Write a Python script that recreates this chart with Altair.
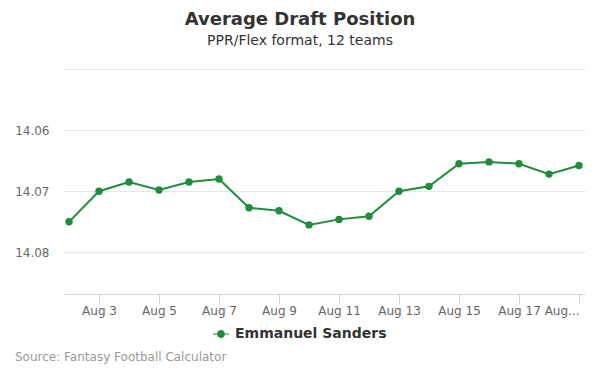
import altair as alt
import pandas as pd

# ---- data ----
dates = ["2019-08-02", "2019-08-03", "2019-08-04", "2019-08-05", "2019-08-06",
         "2019-08-07", "2019-08-08", "2019-08-09", "2019-08-10", "2019-08-11",
         "2019-08-12", "2019-08-13", "2019-08-14", "2019-08-15", "2019-08-16",
         "2019-08-17", "2019-08-18", "2019-08-19"]
adp = [14.0750, 14.0700, 14.0685, 14.0698, 14.0685,
       14.0680, 14.0727, 14.0732, 14.0755, 14.0746,
       14.0741, 14.0700, 14.0692, 14.0655, 14.0652,
       14.0655, 14.0672, 14.0658]
player = "Emmanuel Sanders"
y_ticks = [14.05, 14.06, 14.07, 14.08]
x_tick_days = [3, 5, 7, 9, 11, 13, 15, 17, 19]
title_text = "Average Draft Position"
subtitle_text = "PPR/Flex format, 12 teams"
source_text = "Source: Fantasy Football Calculator"

GREEN = "#218c3c"
FONT = "DejaVu Sans"

df = pd.DataFrame({"date": dates, "adp": adp, "player": player})

x_enc = alt.X(
    "date:T",
    scale=alt.Scale(
        type="utc",
        domain=[alt.DateTime(year=2019, month=8, date=1, hours=20, utc=True),
                alt.DateTime(year=2019, month=8, date=19, hours=4, minutes=48, utc=True)],
        nice=False,
    ),
    axis=alt.Axis(
        title=None,
        values=[alt.DateTime(year=2019, month=8, date=d, utc=True) for d in x_tick_days],
        format="%b %-d",
        labelExpr="utcdate(datum.value) == 19 ? 'Aug...' : datum.label",
        labelAlign={"condition": {"test": "utcdate(datum.value) == 19", "value": "right"},
                    "value": "center"},
        grid=False,
        domainColor="#ccd6eb",
        tickColor="#ccd6eb",
        tickSize=10,
        labelPadding=1,
        labelFont=FONT,
        labelFontSize=12,
        labelColor="#666666",
        labelFlush=False,
        labelOverlap=False,
    ),
)

y_enc = alt.Y(
    "adp:Q",
    scale=alt.Scale(domain=[14.04985, 14.0868], reverse=True, nice=False, zero=False),
    axis=alt.Axis(
        title=None,
        values=y_ticks,
        labelExpr="datum.value < 14.055 ? '' : format(datum.value, '.2f')",
        domain=False,
        ticks=False,
        gridColor="#e6e6e6",
        labelPadding=15,
        labelFont=FONT,
        labelFontSize=12,
        labelColor="#666666",
    ),
)

legend_symbol = ("M -1 -0.0625 L -0.5 -0.0625 L -0.5 0.0625 L -1 0.0625 Z "
                 "M 0.5 -0.0625 L 1 -0.0625 L 1 0.0625 L 0.5 0.0625 Z "
                 "M 0.5 0 A 0.5 0.5 0 1 1 -0.5 0 A 0.5 0.5 0 1 1 0.5 0 Z")

color_enc = alt.Color(
    "player:N",
    scale=alt.Scale(range=[GREEN]),
    legend=alt.Legend(
        title=None,
        orient="none",
        legendX=149,
        legendY=258,
        symbolType=legend_symbol,
        symbolSize=256,
        symbolFillColor=GREEN,
        symbolStrokeWidth=0,
        labelFont=FONT,
        labelFontSize=14,
        labelFontWeight="bold",
        labelColor="#333333",
        labelOffset=6,
        padding=0,
    ),
)

line = alt.Chart(df).mark_line(strokeWidth=2).encode(x=x_enc, y=y_enc, color=color_enc)
points = alt.Chart(df).mark_point(filled=True, size=55, opacity=1).encode(
    x=x_enc, y=y_enc, color=alt.Color("player:N", scale=alt.Scale(range=[GREEN]), legend=None)
)

source = alt.Chart(pd.DataFrame({"t": [source_text]})).mark_text(
    align="left", baseline="middle", font=FONT, fontSize=12, color="#999999"
).encode(x=alt.value(-49), y=alt.value(289), text="t:N")

chart = alt.layer(line, points, source).properties(
    width=521,
    height=226,
    autosize=alt.AutoSizeParams(type="none"),
    padding={"left": 64, "top": 68, "right": 15, "bottom": 81},
    title=alt.TitleParams(
        text=title_text,
        subtitle=subtitle_text,
        anchor="middle",
        dx=-24.5,
        offset=20,
        font=FONT,
        fontSize=18,
        fontWeight="bold",
        color="#333333",
        subtitleFont=FONT,
        subtitleFontSize=14,
        subtitleColor="#333333",
        subtitlePadding=5,
    ),
).configure(background="white").configure_view(strokeWidth=0)

chart.save("out.html", embed_options={"renderer": "svg", "actions": False})
